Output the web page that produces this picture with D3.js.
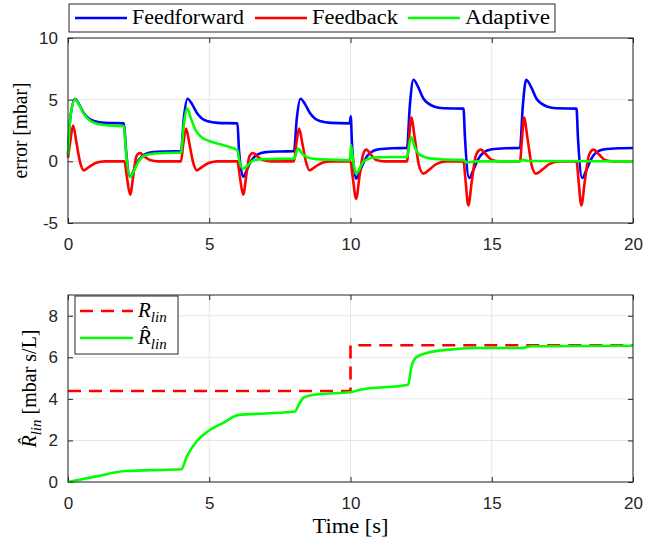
<!DOCTYPE html>
<html>
<head>
<meta charset="utf-8">
<script src="https://cdn.jsdelivr.net/npm/d3@7"></script>
<style>
  body { margin: 0; background: #fff; }
  .tick text { font-family: "Liberation Sans", Arial, sans-serif; font-size: 17px; fill: #262626; }
  .tex { font-family: "Liberation Serif", "Times New Roman", serif; fill: #000; }
</style>
</head>
<body>
<div id="chart"></div>
<script>
// ---- data ----
const feedforward = [
  [0,0.5],[0.08,3.5],[0.25,5.05],[0.4,4.6],[0.56,3.9],[0.75,3.45],[0.95,3.25],[1.3,3.12],[1.98,3.08],
  [2.05,1.0],[2.2,-1.25],[2.35,-0.6],[2.5,0.1],[2.7,0.55],[3.0,0.75],[3.5,0.8],[4.0,0.82],
  [4.1,3.5],[4.23,5.08],[4.4,4.6],[4.57,3.9],[4.75,3.45],[4.95,3.25],[5.3,3.12],[6.0,3.08],
  [6.05,1.0],[6.2,-1.25],[6.35,-0.6],[6.5,0.1],[6.7,0.55],[7.0,0.75],[7.5,0.8],[8.0,0.82],
  [8.1,3.5],[8.23,5.08],[8.4,4.6],[8.57,3.9],[8.75,3.45],[8.95,3.25],[9.3,3.12],[9.97,3.08],
  [10.01,3.65],[10.05,1.5],[10.2,-1.4],[10.35,-0.7],[10.5,0.1],[10.7,0.7],[11.0,0.98],[11.5,1.06],[12.0,1.08],
  [12.1,4.5],[12.23,6.62],[12.4,6.0],[12.58,5.1],[12.75,4.7],[12.95,4.45],[13.3,4.3],[14.0,4.27],
  [14.05,2.0],[14.2,-1.35],[14.35,-0.7],[14.5,0.1],[14.7,0.7],[15.0,0.98],[15.5,1.06],[16.0,1.08],
  [16.1,4.5],[16.22,6.62],[16.4,6.0],[16.58,5.1],[16.75,4.7],[16.95,4.45],[17.3,4.3],[18.0,4.27],
  [18.05,2.0],[18.2,-1.35],[18.35,-0.7],[18.5,0.1],[18.72,0.76],[19.0,0.98],[19.5,1.06],[20,1.08]
];
const feedback = [
  [0,0.3],[0.08,1.6],[0.18,2.9],[0.3,1.5],[0.42,0],[0.56,-0.73],[0.75,-0.45],[1.0,-0.12],[1.3,0],[2.0,0],
  [2.08,-1.2],[2.2,-2.7],[2.32,-1.0],[2.42,0.4],[2.54,0.68],[2.7,0.4],[2.9,0.1],[3.2,0],[4.0,0],
  [4.08,1.4],[4.18,2.65],[4.3,1.4],[4.42,0],[4.56,-0.73],[4.75,-0.45],[5.0,-0.12],[5.3,0],[6.0,0],
  [6.08,-1.2],[6.2,-2.7],[6.32,-1.0],[6.42,0.4],[6.55,0.68],[6.7,0.4],[6.9,0.1],[7.2,0],[8.0,0],
  [8.08,1.4],[8.18,2.65],[8.3,1.4],[8.42,0],[8.55,-0.73],[8.75,-0.45],[9.0,-0.12],[9.3,0],[10.0,0],
  [10.08,-1.3],[10.2,-3.03],[10.32,-1.2],[10.44,0.5],[10.56,0.95],[10.72,0.55],[10.9,0.12],[11.2,0],[12.0,0],
  [12.07,1.8],[12.15,3.54],[12.28,1.8],[12.42,-0.3],[12.58,-1.0],[12.8,-0.65],[13.05,-0.2],[13.4,0],[14.0,0],
  [14.07,-1.5],[14.17,-3.57],[14.3,-1.5],[14.44,0.5],[14.61,0.95],[14.8,0.55],[15.0,0.12],[15.3,0],[16.0,0],
  [16.07,1.8],[16.14,3.54],[16.27,1.8],[16.41,-0.3],[16.56,-1.0],[16.8,-0.65],[17.05,-0.2],[17.4,0],[18.0,0],
  [18.07,-1.5],[18.17,-3.57],[18.3,-1.5],[18.44,0.5],[18.6,0.95],[18.8,0.55],[19.0,0.12],[19.3,0],[20,0]
];
const adaptive = [
  [0,0.5],[0.08,3.5],[0.25,5.0],[0.4,4.55],[0.56,3.85],[0.75,3.35],[0.95,3.1],[1.3,2.95],[1.98,2.84],
  [2.05,0.8],[2.2,-1.27],[2.35,-0.7],[2.5,0.0],[2.7,0.45],[3.0,0.62],[3.5,0.68],[4.0,0.7],
  [4.1,3.0],[4.22,4.27],[4.35,3.5],[4.5,2.6],[4.7,2.0],[5.0,1.65],[5.5,1.3],[6.0,0.9],
  [6.05,0.2],[6.19,-0.6],[6.35,-0.35],[6.57,0.08],[6.9,0.18],[7.5,0.2],[8.0,0.22],
  [8.14,1.03],[8.3,0.6],[8.5,0.3],[8.8,0.18],[9.5,0.12],[9.98,0.1],
  [10.02,1.3],[10.08,0.3],[10.2,-1.0],[10.32,-0.6],[10.46,0.0],[10.65,0.22],[10.9,0.32],[11.5,0.35],[12.0,0.36],
  [12.14,1.97],[12.3,1.0],[12.47,0.5],[12.8,0.24],[13.4,0.14],[14.0,0.1],[14.12,-0.1],[14.4,0.0],
  [16.0,0.0],[16.1,0.12],[16.3,0.03],[20,0.0]
];
const rlinT = [0, 10, 20];
const rlinV = [4.38, 6.58, 6.58];
const rhat = [
  [0,0],[1,0.27],[2.04,0.53],[3,0.57],[4.01,0.61],[4.2,1.21],[4.54,1.94],[4.93,2.42],[5.5,2.85],
  [6.05,3.23],[7,3.3],[8.03,3.39],[8.2,3.8],[8.36,4.08],[8.88,4.23],[10,4.32],[10.33,4.44],
  [12.04,4.68],[12.15,5.5],[12.3,5.97],[12.7,6.21],[13.5,6.37],[14.3,6.45],[16.05,6.45],[16.4,6.53],[20,6.56]
];
const xTicks = [0, 5, 10, 15, 20];
const errTicks = [-5, 0, 5, 10];
const rTicks = [0, 2, 4, 6, 8];

// ---- canvas ----
const WIDTH = 646, HEIGHT = 545;
const LEFT = 68, RIGHT = 633;
const axCol = "#262626";

const svg = d3.select("#chart").append("svg")
  .attr("width", WIDTH).attr("height", HEIGHT);

const x = d3.scaleLinear().domain([0, 20]).range([LEFT, RIGHT]);
const plain = d => String(d); // matlab style "-5" with a hyphen

const drawAxes = (top, bottom, y, yTicks) => {
  const g = svg.append("g");
  // grid
  g.selectAll(".vg").data(xTicks).enter().append("line")
    .attr("x1", d => x(d)).attr("x2", d => x(d)).attr("y1", top).attr("y2", bottom)
    .attr("stroke", "#e6e6e6").attr("stroke-width", 1);
  g.selectAll(".hg").data(yTicks).enter().append("line")
    .attr("x1", LEFT).attr("x2", RIGHT).attr("y1", d => y(d)).attr("y2", d => y(d))
    .attr("stroke", "#e6e6e6").attr("stroke-width", 1);

  const ax = (axis, tx, ty) => {
    const a = g.append("g").attr("transform", `translate(${tx},${ty})`).call(axis);
    a.select(".domain").remove();
    a.selectAll(".tick line").attr("stroke", axCol);
    return a;
  };
  ax(d3.axisBottom(x).tickValues(xTicks).tickSize(-5).tickPadding(15).tickFormat(plain), 0, bottom);
  ax(d3.axisTop(x).tickValues(xTicks).tickSize(-5).tickFormat(""), 0, top);
  ax(d3.axisLeft(y).tickValues(yTicks).tickSize(-5).tickPadding(10).tickFormat(plain), LEFT, 0);
  ax(d3.axisRight(y).tickValues(yTicks).tickSize(-5).tickFormat(""), RIGHT, 0);
  return g;
};

const frame = (top, bottom) => {
  svg.append("rect").attr("x", LEFT).attr("y", top)
    .attr("width", RIGHT - LEFT).attr("height", bottom - top)
    .attr("fill", "none").attr("stroke", axCol).attr("stroke-width", 1);
};

// ---- top plot: error ----
const T1 = 38, B1 = 223;
const yErr = d3.scaleLinear().domain([-5, 10]).range([B1, T1]);
drawAxes(T1, B1, yErr, errTicks);

const errLine = d3.line().x(d => x(d[0])).y(d => yErr(d[1])).curve(d3.curveMonotoneX);
const series = [
  { name: "Feedforward", data: feedforward, color: "#0000ff", w: 112 },
  { name: "Feedback", data: feedback, color: "#ff0000", w: 86 },
  { name: "Adaptive", data: adaptive, color: "#00ff00", w: 85 }
];
series.forEach(s => {
  svg.append("path").datum(s.data)
    .attr("d", errLine).attr("fill", "none")
    .attr("stroke", s.color).attr("stroke-width", 2.6)
    .attr("stroke-linejoin", "round");
});
frame(T1, B1);

svg.append("text").attr("class", "tex")
  .attr("transform", `translate(27,${(T1 + B1) / 2}) rotate(-90)`)
  .attr("text-anchor", "middle").style("font-size", "20px")
  .attr("textLength", 96).attr("lengthAdjust", "spacingAndGlyphs")
  .text("error [mbar]");

// top legend
const leg = svg.append("g");
leg.append("rect").attr("x", 69).attr("y", 4).attr("width", 486).attr("height", 28)
  .attr("fill", "#fff").attr("stroke", axCol).attr("stroke-width", 1);
const legX = [75, 255, 408];
series.forEach((s, i) => {
  leg.append("line").attr("x1", legX[i]).attr("x2", legX[i] + 52).attr("y1", 18).attr("y2", 18)
    .attr("stroke", s.color).attr("stroke-width", 2.6);
  leg.append("text").attr("class", "tex").attr("x", legX[i] + 57).attr("y", 24)
    .style("font-size", "20px")
    .attr("textLength", s.w).attr("lengthAdjust", "spacingAndGlyphs")
    .text(s.name);
});

// ---- bottom plot: R_lin ----
const T2 = 295, B2 = 482;
const yR = d3.scaleLinear().domain([0, 9]).range([B2, T2]);
drawAxes(T2, B2, yR, rTicks);

svg.append("path").datum(rlinT.map((t, i) => [t, rlinV[i]]))
  .attr("d", d3.line().x(d => x(d[0])).y(d => yR(d[1])).curve(d3.curveStepAfter))
  .attr("fill", "none").attr("stroke", "#ff0000").attr("stroke-width", 2.6)
  .attr("stroke-dasharray", "13,8");
svg.append("path").datum(rhat)
  .attr("d", d3.line().x(d => x(d[0])).y(d => yR(d[1])).curve(d3.curveMonotoneX))
  .attr("fill", "none").attr("stroke", "#00ff00").attr("stroke-width", 2.6);
frame(T2, B2);

// bottom legend
const leg2 = svg.append("g");
leg2.append("rect").attr("x", 75).attr("y", 296).attr("width", 103).attr("height", 58)
  .attr("fill", "#fff").attr("stroke", axCol).attr("stroke-width", 1);
leg2.append("line").attr("x1", 80).attr("x2", 133).attr("y1", 311).attr("y2", 311)
  .attr("stroke", "#ff0000").attr("stroke-width", 2.6).attr("stroke-dasharray", "13,8");
leg2.append("line").attr("x1", 80).attr("x2", 133).attr("y1", 338).attr("y2", 338)
  .attr("stroke", "#00ff00").attr("stroke-width", 2.6);

const rSym = (sel, hat) => {
  sel.append("tspan").style("font-style", "italic").text(hat ? "R\u0302" : "R");
  sel.append("tspan").style("font-style", "italic").style("font-size", "15px")
    .attr("dy", 5).text("lin");
};
const t1 = leg2.append("text").attr("class", "tex").attr("x", 138).attr("y", 317).style("font-size", "21px");
rSym(t1, false);
const t2 = leg2.append("text").attr("class", "tex").attr("x", 138).attr("y", 344).style("font-size", "21px");
rSym(t2, true);

const yl = svg.append("text").attr("class", "tex")
  .attr("transform", `translate(36,${(T2 + B2) / 2}) rotate(-90)`)
  .attr("text-anchor", "middle").style("font-size", "20px");
rSym(yl, true);
yl.append("tspan").attr("dy", -5).text(" [mbar s/L]");

svg.append("text").attr("class", "tex")
  .attr("x", (LEFT + RIGHT) / 2).attr("y", 533).attr("text-anchor", "middle")
  .style("font-size", "20px")
  .attr("textLength", 76).attr("lengthAdjust", "spacingAndGlyphs")
  .text("Time [s]");
</script>
</body>
</html>
